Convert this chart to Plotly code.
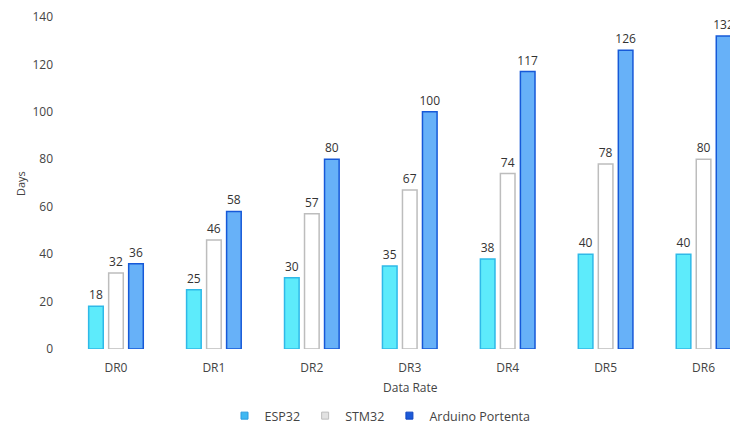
import plotly.graph_objects as go

categories = ["DR0", "DR1", "DR2", "DR3", "DR4", "DR5", "DR6"]
esp32 = [18, 25, 30, 35, 38, 40, 40]
stm32 = [32, 46, 57, 67, 74, 78, 80]
portenta = [36, 58, 80, 100, 117, 126, 132]
y_ticks = [0, 20, 40, 60, 80, 100, 120, 140]

FONT = "Open Sans, Liberation Sans, sans-serif"
TEXT = "#444444"

# name, values, bar fill, bar edge, legend swatch fill, legend swatch edge
series = [
    ("ESP32", esp32, "#5DEBFB", "#2FB9E8", "#3FB8F2", "#2A9BE0"),
    ("STM32", stm32, "#FFFFFF", "#BDBDBD", "#E2E2E2", "#BDBDBD"),
    ("Arduino Portenta", portenta, "#67B1F8", "#1659D8", "#1C5AD8", "#0F44C0"),
]

L, T, B = 67, 17, 76
W, H = 730, 425
PW, PH = W - L, H - T - B

fig = go.Figure()
for name, vals, fill, edge, _, _ in series:
    fig.add_trace(go.Bar(
        name=name, x=categories, y=vals, showlegend=False,
        marker=dict(color=fill, line=dict(color=edge, width=1.5)),
        text=vals, textposition="outside", constraintext="none",
        textfont=dict(family=FONT, size=12, color="#333333"),
        cliponaxis=False,
    ))

# small square swatches for the legend
for name, _, _, _, sw, swe in series:
    fig.add_trace(go.Scatter(
        name=name, x=[None], y=[None], mode="markers",
        marker=dict(symbol="square", size=7, color=sw, line=dict(color=swe, width=1)),
    ))

fig.update_layout(
    width=W, height=H,
    margin=dict(l=L, r=0, t=T, b=B, autoexpand=False),
    paper_bgcolor="white", plot_bgcolor="white",
    barmode="group", bargap=0.387, bargroupgap=0.27,
    font=dict(family=FONT, size=12, color=TEXT),
    showlegend=True,
    legend=dict(orientation="h", x=(380 - L) / PW, xanchor="center",
                y=(349 - 416) / PH, yanchor="middle",
                font=dict(family=FONT, size=12.5, color=TEXT),
                itemwidth=30, tracegroupgap=0),
    xaxis=dict(range=[-0.5, 6.27], showgrid=False, showline=False, zeroline=False,
               ticks="", ticklabelstandoff=10,
               tickfont=dict(family=FONT, size=12, color=TEXT)),
    yaxis=dict(range=[0, 140], tickvals=y_ticks, showgrid=False, showline=False,
               zeroline=False, ticks="", ticklabelstandoff=13,
               tickfont=dict(family=FONT, size=12, color=TEXT)),
    annotations=[
        dict(text="Days", textangle=-90, x=(20 - L) / PW, y=(349 - 184) / PH,
             xref="paper", yref="paper", xanchor="center", yanchor="middle",
             showarrow=False, font=dict(family=FONT, size=11, color=TEXT)),
        dict(text="Data Rate", x=(410 - L) / PW, y=(349 - 388) / PH,
             xref="paper", yref="paper", xanchor="center", yanchor="middle",
             showarrow=False, font=dict(family=FONT, size=12, color=TEXT)),
    ],
)

fig.write_html("out.html")
